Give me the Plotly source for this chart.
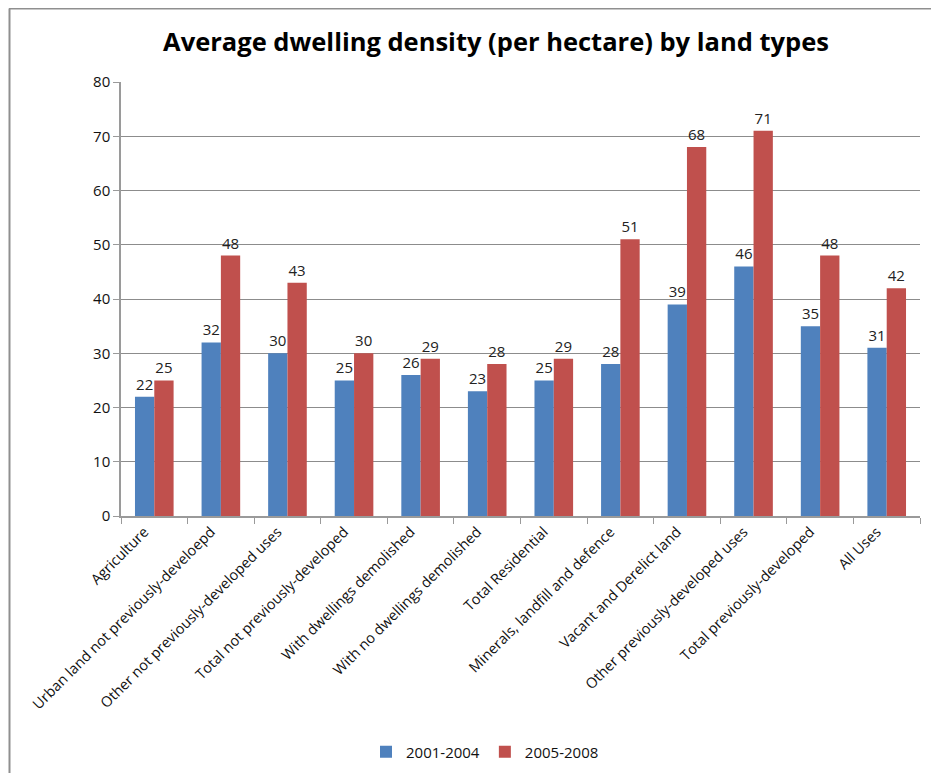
import plotly.graph_objects as go

categories = [
    "Agriculture",
    "Urban land not previously-develoepd",
    "Other not previously-developed uses",
    "Total not previously-developed",
    "With dwellings demolished",
    "With no dwellings demolished",
    "Total Residential",
    "Minerals, landfill and defence",
    "Vacant and Derelict land",
    "Other previously-developed uses",
    "Total previously-developed",
    "All Uses",
]
series_2001_2004 = [22, 32, 30, 25, 26, 23, 25, 28, 39, 46, 35, 31]
series_2005_2008 = [25, 48, 43, 30, 29, 28, 29, 51, 68, 71, 48, 42]
y_ticks = [0, 10, 20, 30, 40, 50, 60, 70, 80]

FONT = "Open Sans"
OFF = 8  # page body margin
W, H = 939 - OFF, 773 - OFF
L, R, T, B = 121 - OFF, 19, 82 - OFF, 257
pw, ph = W - L - R, H - T - B

def px_x(p):  # p in screen pixels -> paper
    return (p - OFF - L) / pw

def px_y(p):
    return (H - B - (p - OFF)) / ph

fig = go.Figure()
fig.add_trace(go.Bar(
    x=categories, y=series_2001_2004, name="2001-2004",
    marker=dict(color="#4F81BD", line=dict(width=0)),
    text=series_2001_2004, textposition="outside", cliponaxis=False,
    textfont=dict(family=FONT, size=15, color="#222222"),
))
fig.add_trace(go.Bar(
    x=categories, y=series_2005_2008, name="2005-2008",
    marker=dict(color="#C0504D", line=dict(width=0)),
    text=series_2005_2008, textposition="outside", cliponaxis=False,
    textfont=dict(family=FONT, size=15, color="#222222"),
))

fig.update_layout(
    width=W, height=H,
    margin=dict(l=L, r=R, t=T, b=B, autoexpand=False),
    paper_bgcolor="white", plot_bgcolor="white",
    barmode="group", bargap=0.42, bargroupgap=0,
    font=dict(family=FONT, size=14, color="#111111"),
    title=dict(
        text="<b>Average dwelling density (per hectare) by land types</b>",
        x=(496 - OFF) / W, xanchor="center", xref="container",
        y=1 - (42 - OFF) / H, yanchor="middle", yref="container",
        font=dict(family=FONT, size=25.5, color="#000000"),
    ),
    showlegend=True,
    legend=dict(
        orientation="h", x=px_x(366), xanchor="left", xref="paper",
        y=px_y(752), yanchor="middle", yref="paper",
        font=dict(family=FONT, size=15, color="#111111"),
        itemwidth=30, traceorder="normal",
    ),
)

fig.update_xaxes(
    type="category", tickangle=-45, showgrid=False,
    showline=True, linecolor="#9a9a9a", linewidth=1.5,
    ticks="outside", tickson="boundaries", ticklen=6, tickcolor="#9a9a9a",
    ticklabelshift=-10,
    tickfont=dict(family=FONT, size=14.5, color="#111111"),
)
fig.update_yaxes(
    range=[0, 80], tickvals=y_ticks, showgrid=True, gridcolor="#8c8c8c", gridwidth=1,
    showline=True, linecolor="#9a9a9a", linewidth=1.5,
    ticks="outside", ticklen=6, tickcolor="#9a9a9a",
    tickfont=dict(family=FONT, size=15, color="#111111"),
    zeroline=False,
)

# outer chart frame
fig.add_shape(type="line", xref="paper", yref="paper",
              x0=px_x(9), x1=px_x(960), y0=px_y(8.5), y1=px_y(8.5),
              line=dict(color="#8f8f8f", width=2))
fig.add_shape(type="line", xref="paper", yref="paper",
              x0=px_x(9.5), x1=px_x(9.5), y0=px_y(8.5), y1=px_y(800),
              line=dict(color="#8f8f8f", width=2))

fig.write_html("out.html")
